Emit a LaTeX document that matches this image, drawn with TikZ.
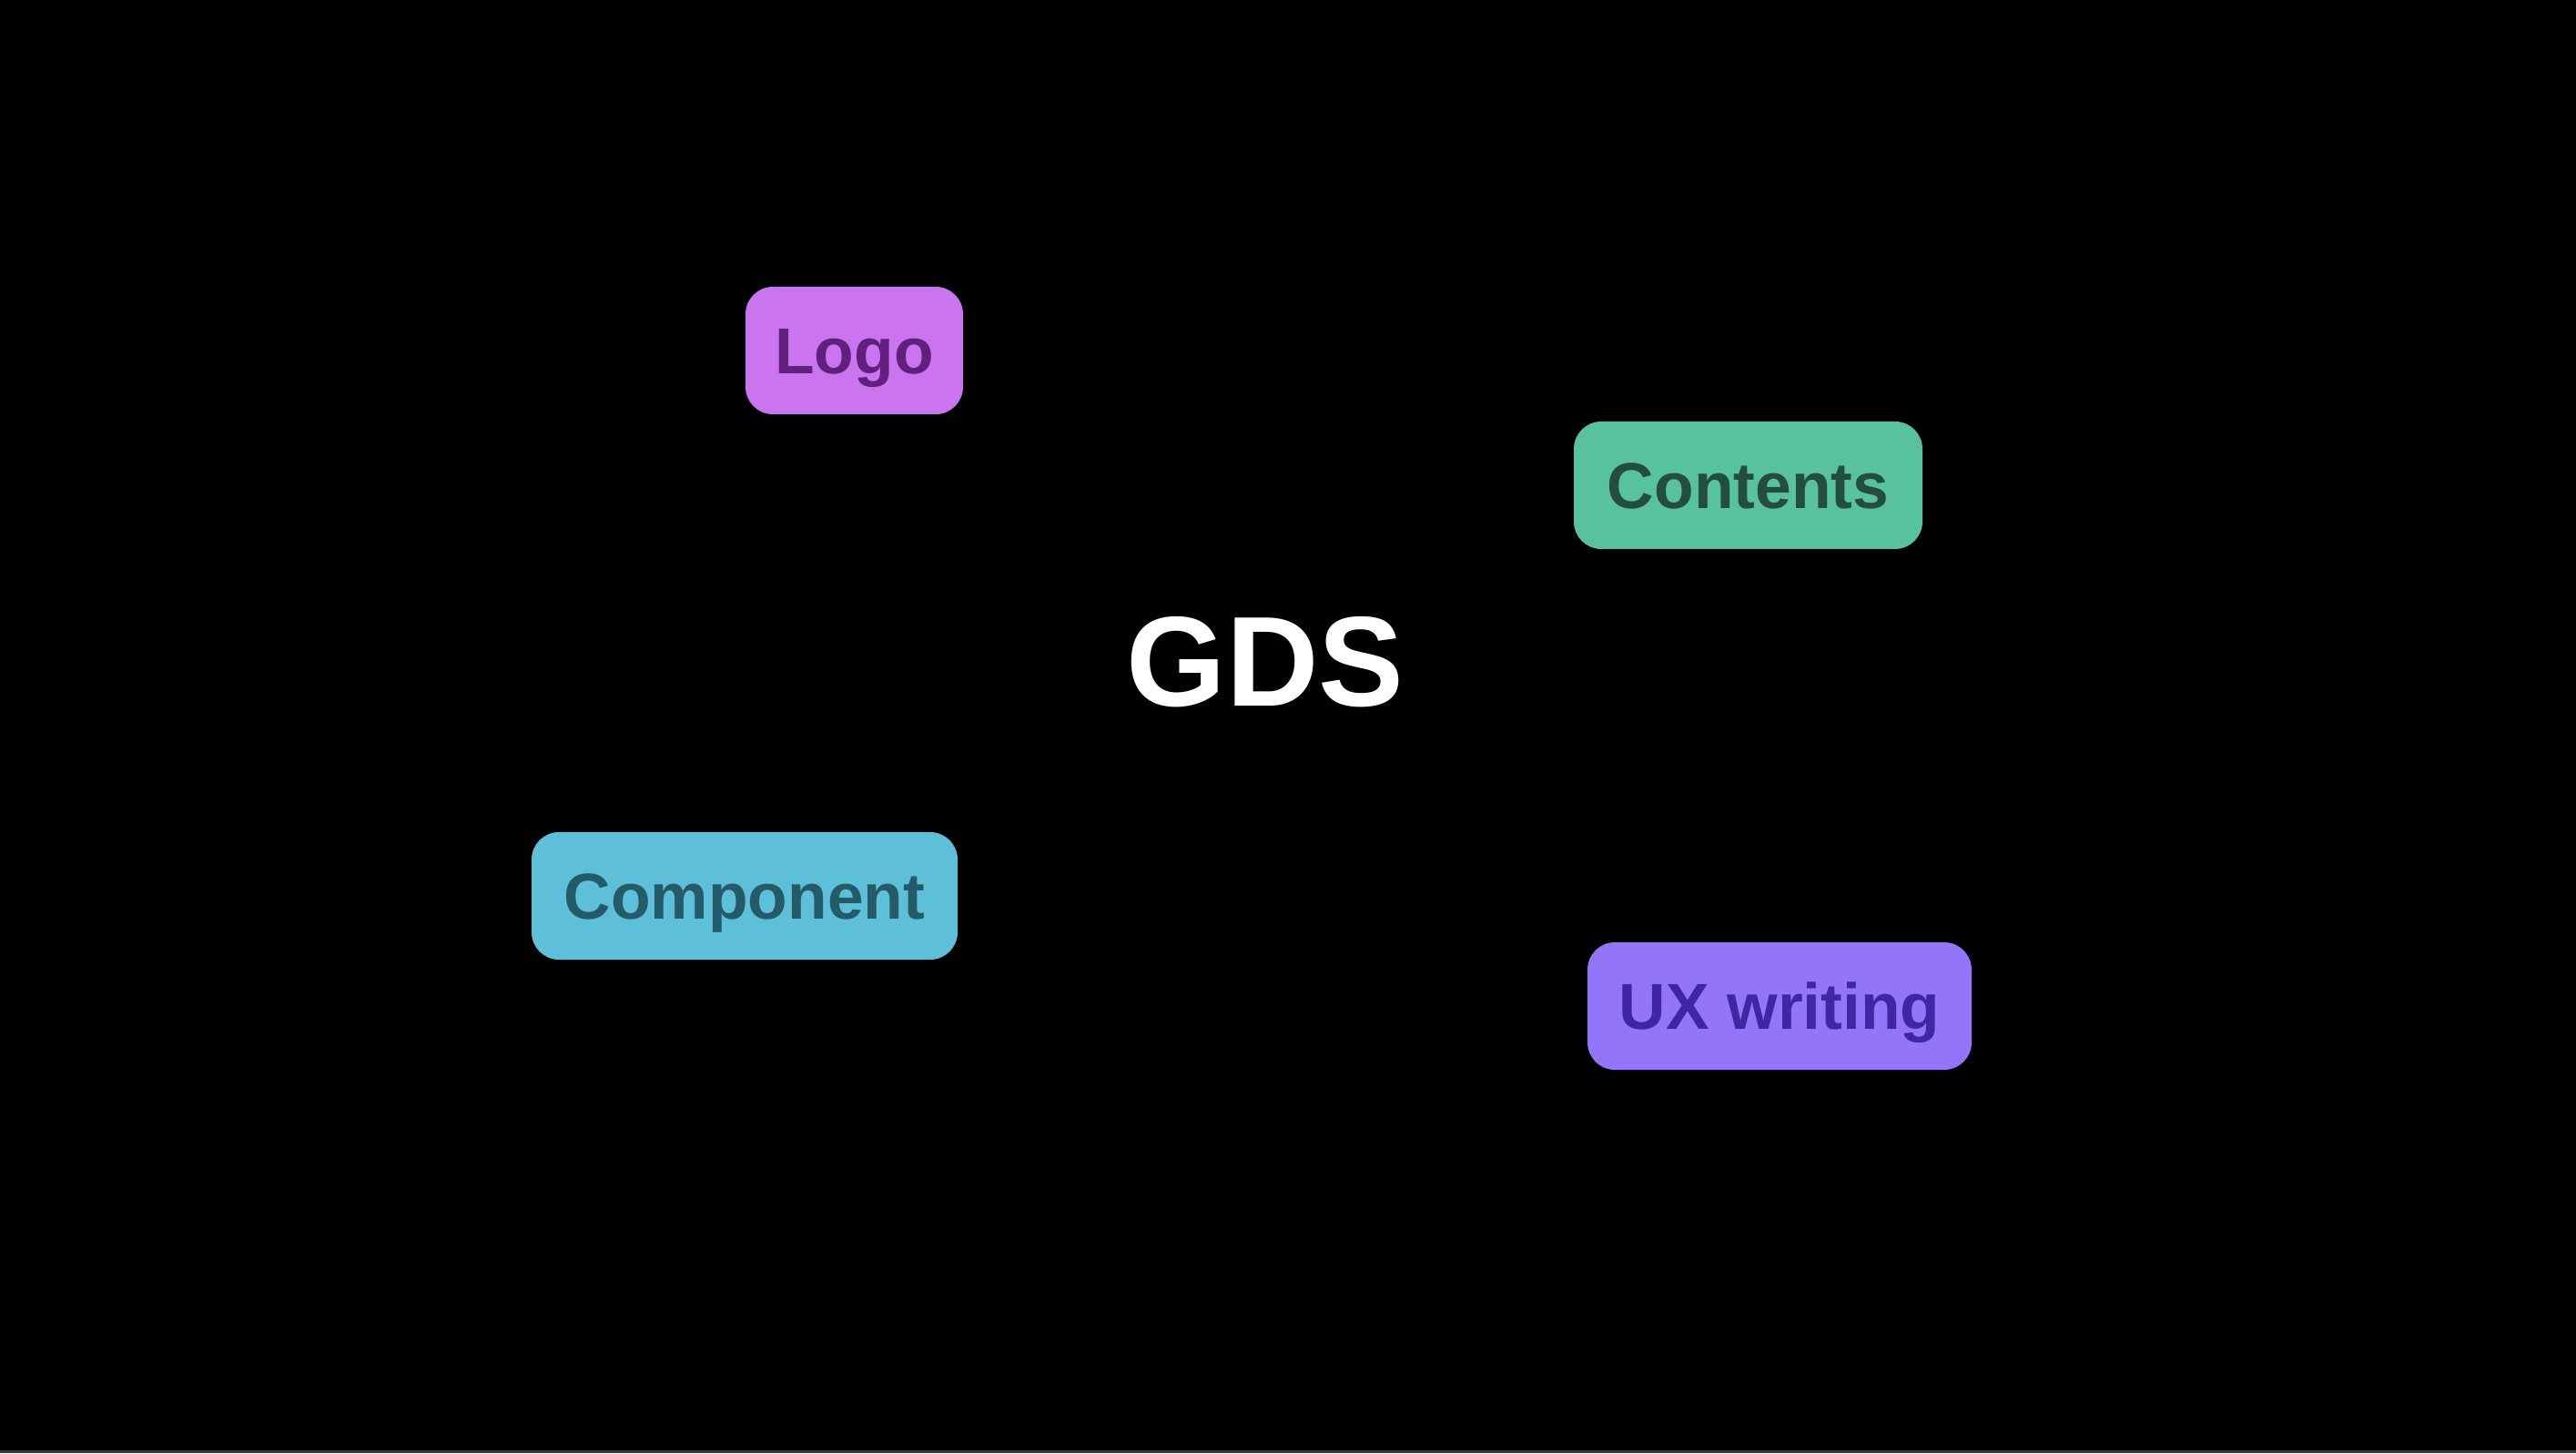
\documentclass[tikz,border=0pt]{standalone}
\usepackage{fontspec}
\setmainfont{Liberation Sans}
\usepackage{xcolor}
\usepackage{tikz}
\usetikzlibrary{positioning}

\definecolor{logofill}{HTML}{CB74F0}
\definecolor{logotext}{HTML}{61207E}
\definecolor{contfill}{HTML}{58C29C}
\definecolor{conttext}{HTML}{234D3E}
\definecolor{compfill}{HTML}{5EC0D8}
\definecolor{comptext}{HTML}{255A68}
\definecolor{uxfill}{HTML}{9275F8}
\definecolor{uxtext}{HTML}{3F27A4}
\definecolor{edgegray}{HTML}{3A3A3A}

\begin{document}
\begin{tikzpicture}[
        tag/.style={rectangle, rounded corners=0.3cm, minimum height=1.4cm,
                    inner sep=0pt, align=center,
                    font=\fontsize{20.3}{24}\selectfont\bfseries,
                    text height=14.6pt, text depth=0pt},
        title/.style={font=\fontsize{40}{48}\selectfont\bfseries, text=white,
                      inner sep=0pt, text height=28.7pt, text depth=0pt}
    ]
        % Canvas
        \useasboundingbox (0,0) rectangle (28.3,15.96);
        \fill[black] (0,0) rectangle (28.3,15.96);
        \fill[edgegray] (0,0) rectangle (28.3,0.03);

        % Nodes
        \node[title] (gds) at (13.90,8.71) {GDS};
        \node[tag, fill=logofill, text=logotext, minimum width=2.39cm] (logo) at (9.385,12.11) {Logo};
        \node[tag, fill=contfill, text=conttext, minimum width=3.83cm] (contents) at (19.205,10.63) {Contents};
        \node[tag, fill=compfill, text=comptext, minimum width=4.68cm] (component) at (8.18,6.12) {Component};
        \node[tag, fill=uxfill, text=uxtext, minimum width=4.22cm] (uxwriting) at (19.55,4.91) {UX writing};
    \end{tikzpicture}
\end{document}
